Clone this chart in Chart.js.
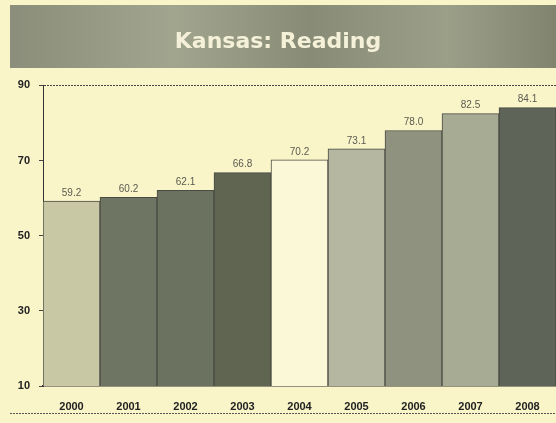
<!DOCTYPE html>
<html>
<head>
<meta charset="utf-8">
<script src="https://cdn.jsdelivr.net/npm/chart.js@4"></script>
<style>
    html, body { margin: 0; padding: 0; background: #f9f5c9; }
    #wrap { width: 556px; height: 423px; position: relative; }
</style>
</head>
<body>
<div id="wrap"><canvas id="readingChart"></canvas></div>
<script>
const years = ['2000', '2001', '2002', '2003', '2004', '2005', '2006', '2007', '2008'];
const scores = [59.2, 60.2, 62.1, 66.8, 70.2, 73.1, 78.0, 82.5, 84.1];
const barColors = ['#c9c8a4', '#6f7563', '#6b725f', '#5f6551', '#fbf8d8', '#b5b7a0', '#8e927e', '#a8ab94', '#5e6457'];
const yTicks = [10, 30, 50, 70, 90];

// banner behind the title + dotted rule under the year labels
const decor = {
    id: 'decor',
    beforeDraw(chart) {
        const c = chart.ctx;
        const g = c.createLinearGradient(10, 0, 556, 0);
        g.addColorStop(0, '#8a8e7a');
        g.addColorStop(0.3, '#a2a58e');
        g.addColorStop(0.55, '#888c76');
        g.addColorStop(0.8, '#9c9f88');
        g.addColorStop(1, '#80846f');
        c.save();
        c.fillStyle = g;
        c.fillRect(10, 5, 546, 63);
        c.restore();
    },
    afterDraw(chart) {
        const c = chart.ctx;
        const y = chart.chartArea.bottom + 27.5;
        c.save();
        c.strokeStyle = '#555';
        c.lineWidth = 1;
        c.setLineDash([2, 1]);
        c.beginPath();
        c.moveTo(10, y);
        c.lineTo(556, y);
        c.stroke();
        c.restore();
    }
};

const valueLabels = {
    id: 'valueLabels',
    afterDatasetsDraw(chart) {
        const c = chart.ctx;
        c.save();
        c.font = '10px "Liberation Sans", Arial, sans-serif';
        c.fillStyle = '#5a5a50';
        c.textAlign = 'center';
        c.textBaseline = 'bottom';
        chart.getDatasetMeta(0).data.forEach((bar, i) => {
            c.fillText(scores[i].toFixed(1), bar.x, bar.y - 3);
        });
        c.restore();
    }
};

new Chart(document.getElementById('readingChart'), {
    type: 'bar',
    data: {
        labels: years,
        datasets: [{
            data: scores,
            backgroundColor: barColors,
            borderColor: '#4a4a44',
            borderWidth: 1,
            barPercentage: 1,
            categoryPercentage: 1
        }]
    },
    options: {
        responsive: true,
        maintainAspectRatio: false,
        animation: false,
        layout: { padding: { left: 0, right: 0, top: 0, bottom: 0 } },
        plugins: {
            legend: { display: false },
            tooltip: { enabled: false },
            title: {
                display: true,
                text: 'Kansas: Reading',
                color: '#f4f1d8',
                font: { family: '"DejaVu Sans"', size: 22, weight: 'bold' },
                padding: { top: 29, bottom: 30 }
            }
        },
        scales: {
            x: {
                grid: { display: false, drawTicks: false },
                border: { display: true, color: '#333', width: 1.5 },
                ticks: {
                    color: '#222',
                    padding: 14,
                    font: { family: '"Liberation Sans", Arial', size: 11, weight: 'bold' }
                },
                afterFit(scale) { scale.height = 37; }
            },
            y: {
                min: 10,
                max: 90,
                afterBuildTicks(scale) { scale.ticks = yTicks.map(v => ({ value: v })); },
                grid: {
                    color: ctx => ctx.tick && ctx.tick.value === 90 ? '#444' : 'rgba(0,0,0,0)',
                    tickColor: '#444',
                    tickLength: 4,
                    drawOnChartArea: true
                },
                border: { display: true, color: '#333', width: 1, dash: [2, 1] },
                ticks: {
                    color: '#222',
                    padding: 9,
                    font: { family: '"Liberation Sans", Arial', size: 11, weight: 'bold' }
                },
                afterFit(scale) { scale.width = 43; }
            }
        }
    },
    plugins: [decor, valueLabels]
});
</script>
</body>
</html>
